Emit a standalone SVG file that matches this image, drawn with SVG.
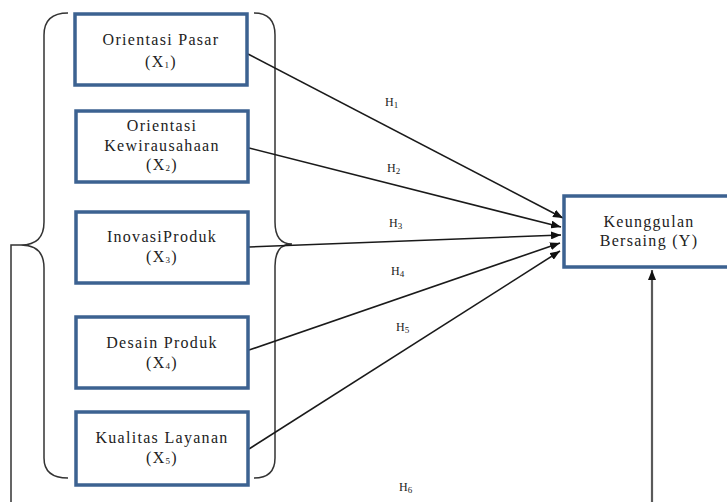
<svg xmlns="http://www.w3.org/2000/svg" width="727" height="502" viewBox="0 0 727 502">
<style>
.box{fill:#fff;stroke:#3c6291;stroke-width:3.5}
.t{font-family:'Liberation Serif','Times New Roman',serif;font-size:16px;letter-spacing:1.3px;fill:#222;text-anchor:middle}
.h{font-family:'Liberation Serif','Times New Roman',serif;font-size:12px;fill:#222}
.sub{font-size:9px}
.br{fill:none;stroke:#333;stroke-width:1.5}
.ln{fill:none;stroke:#1a1a1a;stroke-width:1.6}
</style>
<defs>
<marker id="ah" viewBox="0 0 10 8" refX="10" refY="4" markerWidth="10" markerHeight="8" markerUnits="userSpaceOnUse" orient="auto">
<path d="M0,0 L10,4 L0,8 Z" fill="#111"/>
</marker>
</defs>
<g id="braces">
<path class="br" d="M68 13 Q44 13 44 35 L44 222 Q44 245 21 245 Q44 245 44 268 L44 458 Q44 478 68 478"/>
<path class="br" d="M254 13 Q275 13 275 35 L275 222 Q275 244 292 244 Q275 244 275 266 L275 458 Q275 478 254 478"/>
</g>
<g id="connectors">
<path class="ln" d="M248 54 L563 218" marker-end="url(#ah)"/>
<path class="ln" d="M249 148 L561 227" marker-end="url(#ah)"/>
<path class="ln" d="M249 247 L561 235" marker-end="url(#ah)"/>
<path class="ln" d="M249 350 L560 243" marker-end="url(#ah)"/>
<path class="ln" d="M249 449 L560 251" marker-end="url(#ah)"/>
<path fill="none" stroke="#333" stroke-width="1.5" d="M21 245 L11 245 L11 502"/>
<path fill="none" stroke="#5a5a5a" stroke-width="2.2" d="M652 502 L652 270" marker-end="url(#ah)"/>
<text class="h" x="385" y="106">H<tspan class="sub" dy="2">1</tspan></text>
<text class="h" x="387" y="172">H<tspan class="sub" dy="2">2</tspan></text>
<text class="h" x="389" y="227">H<tspan class="sub" dy="2">3</tspan></text>
<text class="h" x="391" y="275">H<tspan class="sub" dy="2">4</tspan></text>
<text class="h" x="396" y="331">H<tspan class="sub" dy="2">5</tspan></text>
<text class="h" x="399" y="491">H<tspan class="sub" dy="2">6</tspan></text>
</g>
<g id="x1">
<rect class="box" x="75" y="14" width="172" height="71"/>
<text class="t" x="161" y="45">Orientasi Pasar</text>
<text class="t" x="161" y="67">(X<tspan class="sub" dy="1">1</tspan><tspan dy="-1">)</tspan></text>
</g>
<g id="x2">
<rect class="box" x="76" y="111" width="172" height="71"/>
<text class="t" x="162" y="131">Orientasi</text>
<text class="t" x="162" y="151">Kewirausahaan</text>
<text class="t" x="162" y="170">(X<tspan class="sub" dy="1">2</tspan><tspan dy="-1">)</tspan></text>
</g>
<g id="x3">
<rect class="box" x="76" y="212" width="172" height="71"/>
<text class="t" x="162" y="242">InovasiProduk</text>
<text class="t" x="162" y="262">(X<tspan class="sub" dy="1">3</tspan><tspan dy="-1">)</tspan></text>
</g>
<g id="x4">
<rect class="box" x="76" y="317" width="172" height="71"/>
<text class="t" x="162" y="348">Desain Produk</text>
<text class="t" x="162" y="368">(X<tspan class="sub" dy="1">4</tspan><tspan dy="-1">)</tspan></text>
</g>
<g id="x5">
<rect class="box" x="76" y="412" width="172" height="73"/>
<text class="t" x="162" y="443">Kualitas Layanan</text>
<text class="t" x="162" y="463">(X<tspan class="sub" dy="1">5</tspan><tspan dy="-1">)</tspan></text>
</g>
<g id="y">
<rect class="box" x="564" y="196" width="170" height="71"/>
<text class="t" x="649" y="227">Keunggulan</text>
<text class="t" x="649" y="246">Bersaing (Y)</text>
</g>
</svg>
